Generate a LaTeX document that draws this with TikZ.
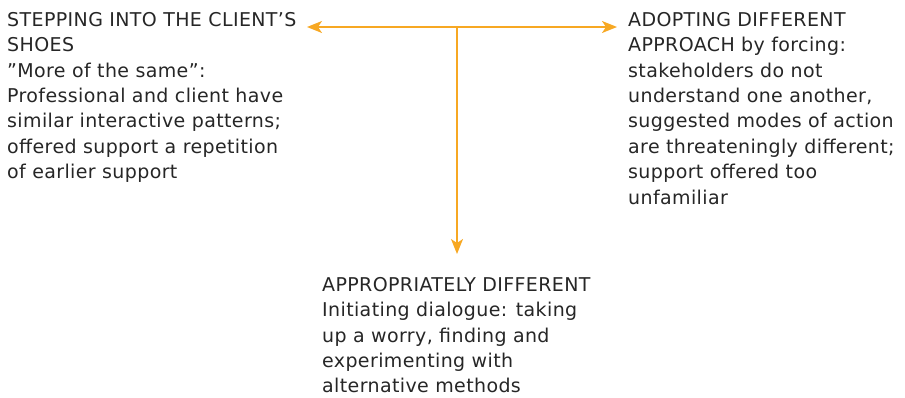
\documentclass[tikz,border=0pt]{standalone}
\usepackage{fontspec}
\setmainfont{DejaVu Sans}[LetterSpace=2]
\usepackage{tikz}
\usetikzlibrary{positioning}
\usetikzlibrary{arrows.meta}
\usetikzlibrary{math}

\definecolor{arrowOrange}{HTML}{F7A823}

\tikzset{
  caption/.style={anchor=north west, inner sep=0pt, align=left,
    font=\fontsize{19}{25.4}\selectfont, text=black!85},
  branch/.style={arrowOrange, line width=1.8pt,
    -{Stealth[length=15pt, width=12pt, inset=4pt]}}
}

\begin{document}
\begin{tikzpicture}[x=1pt, y=-1pt]
      \tikzmath{
        \hY = 27;
        \mX = 457;
      }
      \useasboundingbox (0,0) rectangle (905,397);

      \coordinate (mid) at (\mX, \hY);
      \coordinate (leftEnd) at (307, \hY);
      \coordinate (rightEnd) at (617, \hY);
      \coordinate (downEnd) at (\mX, 254);

      \node[caption] (client) at (7, 12)
        {STEPPING INTO THE CLIENT’S\\SHOES\\”More of the same”:\\Professional and client have\\similar interactive patterns;\\offered support a repetition\\of earlier support};

      \node[caption] (forcing) at (628, 12)
        {ADOPTING DIFFERENT\\APPROACH by forcing:\\stakeholders do not\\understand one another,\\suggested modes of action\\are threateningly different;\\support offered too\\unfamiliar};

      \node[caption] (different) at (322, 277)
        {APPROPRIATELY DIFFERENT\\Initiating dialogue: taking\\up a worry, finding and\\experimenting with\\alternative methods};

      \draw[branch] (mid) -- (leftEnd);
      \draw[branch] (mid) -- (rightEnd);
      \draw[branch] (mid) -- (downEnd);
\end{tikzpicture}
\end{document}
